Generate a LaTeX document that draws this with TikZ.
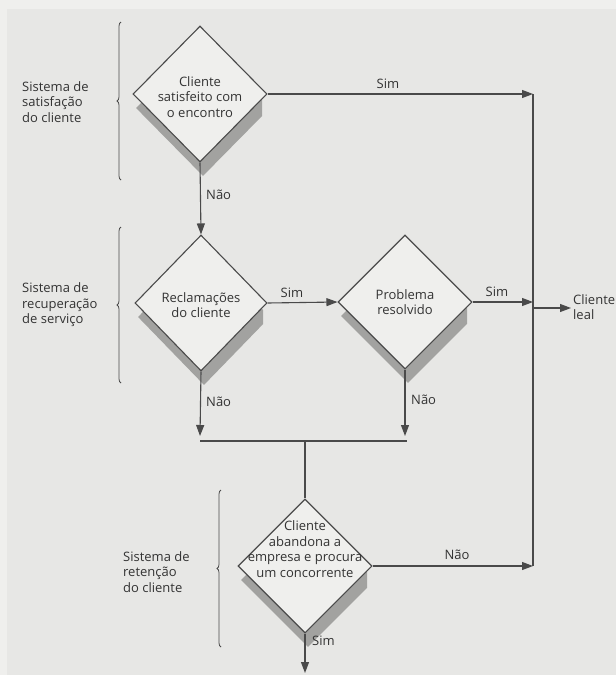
\documentclass[tikz,border=0pt]{standalone}
\usepackage{fontspec}
\setmainfont{Open Sans}
\usetikzlibrary{shapes.geometric,decorations.pathreplacing,arrows.meta}
\definecolor{paper}{HTML}{E7E7E5}
\definecolor{paperhi}{HTML}{EFEFED}
\definecolor{ln}{HTML}{4A4A4A}
\definecolor{tx}{HTML}{333333}
\definecolor{shd}{HTML}{A2A2A0}
\begin{document}
\begin{tikzpicture}[x=1pt,y=-1pt,
  every node/.style={font=\fontsize{13}{15.5}\selectfont, text=tx},
  dia/.style={diamond, draw=ln, line width=1.1pt, fill=paperhi, inner sep=0pt},
  shadia/.style={diamond, fill=shd, inner sep=0pt},
  dtext/.style={align=center, inner sep=0pt},
  side/.style={align=left, anchor=west, inner sep=0pt},
  lbl/.style={inner sep=0pt},
  conn/.style={draw=ln, line width=1.1pt},
  arr/.style={conn, -{Triangle[length=11pt,width=8pt]}},
  brc/.style={draw=ln, line width=0.8pt, decorate, decoration={brace, amplitude=4pt}}
]
% background
\fill[paper] (0,0) rectangle (616,675);
\fill[paperhi] (0,0) rectangle (616,9);
\fill[paperhi] (0,0) rectangle (7,675);
\useasboundingbox (0,0) rectangle (616,675);

% shadows
\begin{scope}\clip (136,90) rectangle (262,200);
\node[shadia, minimum width=134pt, minimum height=136pt] at (203,108) {};\end{scope}
\begin{scope}\clip (137,300) rectangle (263,400);
\node[shadia, minimum width=132pt, minimum height=136pt] at (204,317) {};\end{scope}
\begin{scope}\clip (340,300) rectangle (467,400);
\node[shadia, minimum width=134pt, minimum height=134pt] at (408,316) {};\end{scope}
\begin{scope}\clip (240,560) rectangle (367,660);
\node[shadia, minimum width=134pt, minimum height=134pt] at (308,580) {};\end{scope}

% diamonds
\node[dia, minimum width=134pt, minimum height=136pt] (d1) at (200,94) {};
\node[dia, minimum width=132pt, minimum height=136pt] (d2) at (201,303) {};
\node[dia, minimum width=134pt, minimum height=134pt] (d3) at (405,302) {};
\node[dia, minimum width=134pt, minimum height=134pt] (d4) at (305,566) {};

\node[dtext] (t1) at (200,97) {Cliente\\satisfeito com\\o encontro};
\node[dtext] (t2) at (201,305) {Reclamações\\do cliente};
\node[dtext] (t3) at (405,302) {Problema\\resolvido};
\node[dtext] (t4) at (305,549) {Cliente\\abandona a\\empresa e procura\\um concorrente};

% coordinates
\coordinate (j1) at (533,94);
\coordinate (j2) at (533,302);
\coordinate (j3) at (533,308);
\coordinate (j4) at (533,566);
\coordinate (jt) at (571,308);
\coordinate (m1) at (200,436);
\coordinate (m2) at (405,436);
\coordinate (h1) at (200,441);
\coordinate (h2) at (407,441);
\coordinate (hm) at (305,441);
\coordinate (e1) at (305,673);

\node[side, anchor=north west] (leal) at (573,294) {Cliente\\leal};

% connectors
\draw[arr] (d1.east) -- (j1);
\draw[conn] (j1) -- (j4);
\draw[arr] (d3.east) -- (j2);
\draw[arr] (j3) -- (jt);
\draw[arr] (d1.south) -- (d2.north);
\draw[arr] (d2.east) -- (d3.west);
\draw[arr] (d2.south) -- (m1);
\draw[arr] (d3.south) -- (m2);
\draw[conn] (h1) -- (h2);
\draw[conn] (hm) -- (d4.north);
\draw[arr] (d4.east) -- (j4);
\draw[arr] (d4.south) -- (e1);

% labels
\node[lbl] (s1) at (388,84) {Sim};
\node[lbl] (s2) at (292,293) {Sim};
\node[lbl] (s3) at (497,292) {Sim};
\node[lbl, anchor=west] (n1) at (206,195) {Não};
\node[lbl, anchor=west] (n2) at (206,402) {Não};
\node[lbl, anchor=west] (n3) at (411,400) {Não};
\node[lbl] (n4) at (457,555) {Não};
\node[lbl, anchor=west] (s4) at (312,641) {Sim};

% braces
\draw[brc] (121,180) -- (121,22);
\draw[brc] (121,383) -- (121,227);
\draw[brc] (221,647) -- (221,490);

\node[side] (g1) at (22,102) {Sistema de\\satisfação\\do cliente};
\node[side] (g2) at (22,305) {Sistema de\\recuperação\\de serviço};
\node[side] (g3) at (123,572) {Sistema de\\retenção\\do cliente};
\end{tikzpicture}
\end{document}
